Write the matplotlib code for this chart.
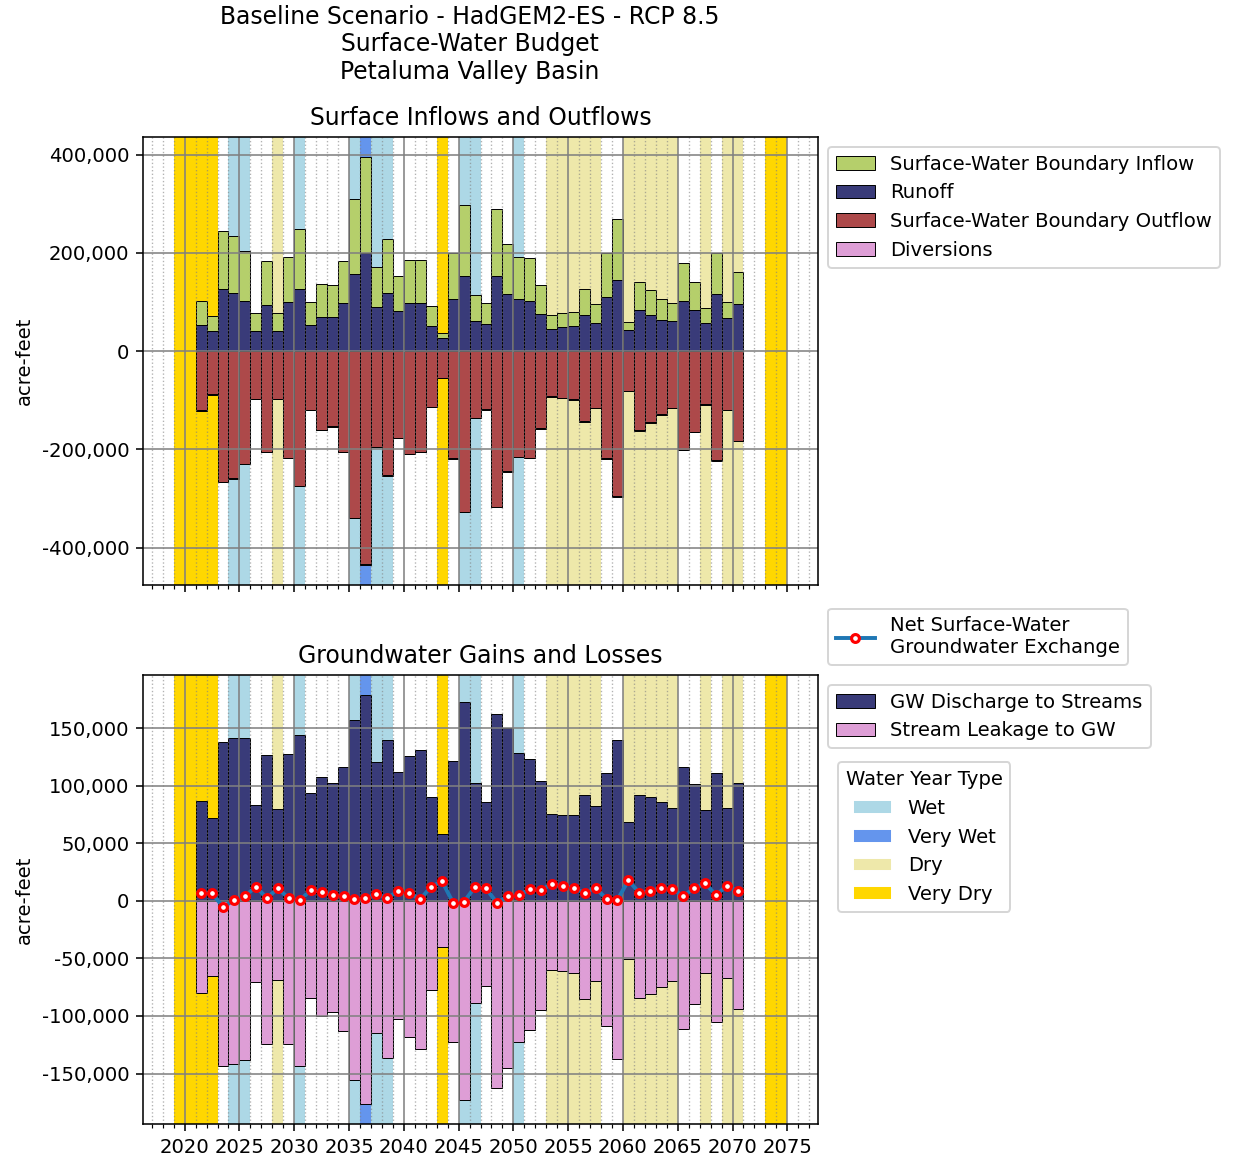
import numpy as np
import matplotlib.pyplot as plt
from matplotlib.patches import Patch
from matplotlib.ticker import MultipleLocator, StrMethodFormatter

plt.rcParams["axes.unicode_minus"] = False

# water years shown as bars
years = list(range(2021, 2071))

# surface-water budget (acre-feet)
sw_inflow = [48800, 31800, 119000, 115600, 101600, 38000, 88800, 36000, 91500, 122000,
             46100, 67200, 64500, 84700, 151000, 195600, 82500, 109200, 71600, 86000,
             86000, 42100, 10800, 93200, 145000, 53300, 42700, 136500, 101000, 85200,
             87400, 60000, 28000, 29200, 29900, 52000, 37700, 89000, 125000, 17600,
             58300, 51400, 42600, 35900, 76600, 57000, 30400, 84700, 34000, 64700]
runoff = [53600, 40700, 126000, 119000, 102400, 40000, 94200, 42000, 101000, 127500,
          53600, 69800, 70500, 98300, 158000, 199000, 89500, 118600, 81400, 99000,
          99000, 50800, 25800, 105800, 153000, 61700, 54900, 153000, 116600, 105800,
          102400, 75000, 46000, 48800, 50800, 74000, 58300, 110000, 145000, 42700,
          83400, 74000, 64400, 61700, 102400, 84000, 57600, 116000, 67000, 96000]
sw_outflow = [-120400, -87800, -266000, -258700, -229500, -96600, -204400, -96600, -216600, -274000,
              -119000, -159700, -153000, -205000, -339000, -433600, -195000, -252600, -176000, -208500,
              -204400, -112900, -53900, -218000, -327000, -136000, -118000, -317000, -245000, -215000,
              -216600, -157000, -92000, -94600, -98000, -143000, -115000, -218000, -296000, -81000,
              -161000, -144800, -128500, -115000, -201000, -163700, -108000, -222000, -119700, -182700]
diversions = [-1000, -1000, -1100, -1000, -1000, -900, -1000, -900, -1000, -1100,
              -1000, -1000, -1000, -1000, -1200, -1200, -1000, -1100, -1000, -1000,
              -1000, -900, -800, -1000, -1200, -1000, -1000, -1200, -1100, -1000,
              -1000, -1000, -900, -900, -900, -1000, -900, -1000, -1100, -800,
              -1000, -1000, -900, -900, -1000, -1000, -900, -1100, -900, -1000]

# groundwater exchange (acre-feet)
gw_discharge = [86900, 72100, 138000, 141600, 141600, 83400, 126200, 79300, 127100, 143600,
                93800, 107700, 101900, 116400, 156900, 178300, 120700, 139500, 112000, 125600,
                130600, 90300, 57600, 121600, 172800, 102200, 85400, 162000, 149700, 128500,
                122800, 104200, 75000, 74400, 74700, 92000, 81900, 110600, 139800, 68000,
                91500, 90000, 86000, 80800, 116400, 101300, 78500, 110600, 80800, 101900]
stream_leakage = [-79900, -65400, -143300, -141300, -137800, -70400, -123900, -68900, -124200, -143000,
                  -84000, -99900, -96700, -112600, -155500, -176000, -114600, -136400, -103000, -118000,
                  -128300, -77000, -40200, -123000, -173000, -88600, -74000, -162400, -145000, -122800,
                  -111800, -94400, -60200, -61100, -62500, -85400, -70000, -108900, -137500, -50400,
                  -84000, -80500, -74400, -69500, -111500, -90000, -63100, -105100, -66900, -93500]
net_exchange = [6700, 6700, -5500, 600, 3800, 12400, 2300, 10700, 2300, 300,
                9300, 7800, 4900, 3800, 1200, 2000, 5500, 2600, 8400, 6900,
                1200, 12400, 16800, -1700, -900, 12200, 10700, -1700, 4000, 4900,
                10100, 9300, 14500, 12700, 11300, 6700, 11300, 1400, 900, 17700,
                6900, 8700, 11000, 10100, 4300, 10700, 15100, 4900, 13000, 8100]

# water year type shading: (start, end, type)
year_type_spans = [
    (2019, 2023, "Very Dry"), (2024, 2026, "Wet"), (2028, 2029, "Dry"),
    (2030, 2031, "Wet"), (2035, 2036, "Wet"), (2036, 2037, "Very Wet"),
    (2037, 2039, "Wet"), (2043, 2044, "Very Dry"), (2045, 2047, "Wet"),
    (2050, 2051, "Wet"), (2053, 2058, "Dry"), (2060, 2065, "Dry"),
    (2067, 2068, "Dry"), (2069, 2071, "Dry"), (2073, 2075, "Very Dry"),
]
type_colors = {"Wet": "lightblue", "Very Wet": "cornflowerblue",
               "Dry": "palegoldenrod", "Very Dry": "gold"}

x = np.array(years)

fig = plt.figure(figsize=(1233 / 141, 1158 / 141), dpi=141)
ax1 = fig.add_axes([0.116, 0.4948, 0.5474, 0.3869])
ax2 = fig.add_axes([0.116, 0.0294, 0.5474, 0.3877], sharex=ax1)

fig.text(0.381, 0.996, "Baseline Scenario - HadGEM2-ES - RCP 8.5\nSurface-Water Budget\nPetaluma Valley Basin",
         ha="center", va="top", fontsize="large")

for ax in (ax1, ax2):
    for start, end, kind in year_type_spans:
        ax.axvspan(start, end, color=type_colors[kind], lw=0, zorder=0)

bar_kw = dict(width=1, align="edge", edgecolor="k", linewidth=0.5)

# top panel
ax1.bar(x, sw_inflow, bottom=runoff, color="#b5cf6b", label="Surface-Water Boundary Inflow", **bar_kw)
ax1.bar(x, runoff, color="#393b79", label="Runoff", **bar_kw)
ax1.bar(x, sw_outflow, color="#ad494a", label="Surface-Water Boundary Outflow", **bar_kw)
ax1.bar(x, diversions, bottom=sw_outflow, color="#de9ed6", label="Diversions", **bar_kw)
ax1.set_title("Surface Inflows and Outflows", fontsize="large")
ax1.set_ylabel("acre-feet")
ax1.yaxis.set_major_locator(MultipleLocator(200000))
ax1.legend(loc="upper left", bbox_to_anchor=(1, 1))

# bottom panel
b1 = ax2.bar(x, gw_discharge, color="#393b79", label="GW Discharge to Streams", **bar_kw)
b2 = ax2.bar(x, stream_leakage, color="#de9ed6", label="Stream Leakage to GW", **bar_kw)
ln, = ax2.plot(x + 0.5, net_exchange, color="#1f77b4", lw=2, marker="o", ms=4,
               mfc="white", mec="red", mew=1.6, zorder=5,
               label="Net Surface-Water\nGroundwater Exchange")
ax2.set_title("Groundwater Gains and Losses", fontsize="large")
ax2.set_ylabel("acre-feet")
ax2.yaxis.set_major_locator(MultipleLocator(50000))

leg_net = ax2.legend(handles=[ln], loc="lower left", bbox_to_anchor=(1, 1))
ax2.add_artist(leg_net)
leg_gw = ax2.legend(handles=[b1, b2], loc="upper left", bbox_to_anchor=(1, 1))
ax2.add_artist(leg_gw)
wy_handles = [Patch(facecolor=type_colors[k], edgecolor="white", label=k)
              for k in ["Wet", "Very Wet", "Dry", "Very Dry"]]
ax2.legend(handles=wy_handles, title="Water Year Type", loc="upper left",
           bbox_to_anchor=(1.0296, 0.806), borderaxespad=0)

for ax in (ax1, ax2):
    ax.set_xlim(2016.2, 2077.8)
    ax.xaxis.set_major_locator(MultipleLocator(5))
    ax.xaxis.set_minor_locator(MultipleLocator(1))
    ax.yaxis.set_major_formatter(StrMethodFormatter("{x:,.0f}"))
    ax.grid(True, which="major", color="gray", linewidth=1, alpha=0.8)
    ax.grid(True, which="minor", axis="x", color="gray", linestyle=":", linewidth=0.7, alpha=0.6)

ax1.tick_params(labelbottom=False)

fig.savefig("out.png", dpi=141)
